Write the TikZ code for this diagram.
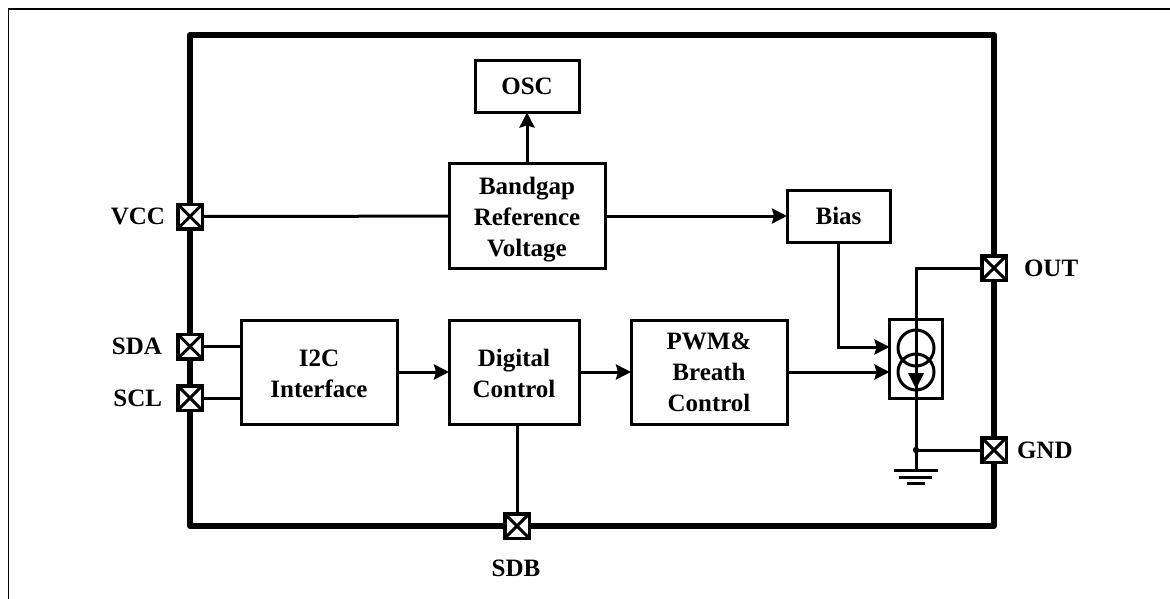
\documentclass[tikz,border=0pt]{standalone}
\usepackage{fontspec}
\setmainfont{Liberation Serif}
\usetikzlibrary{arrows.meta}
\tikzset{
  x=1pt,y=-1pt,
  blockbox/.style={draw=black,line width=3pt,fill=white,align=center,anchor=center,inner sep=0pt,outer sep=0pt,font=\fontsize{25}{31}\selectfont\bfseries},
  wire/.style={draw=black,line width=3pt},
  arrowwire/.style={wire,-{Stealth[length=15pt,width=15pt,inset=2pt]}},
  pinlabel/.style={inner sep=0pt,outer sep=0pt,font=\fontsize{25}{30}\selectfont\bfseries},
  pinbox/.style={draw=black,line width=3.5pt,fill=white,minimum size=24.5pt,inner sep=0pt,outer sep=0pt,path picture={
    \draw[black,line width=3pt] (path picture bounding box.north west)--(path picture bounding box.south east)
    (path picture bounding box.north east)--(path picture bounding box.south west);}}
}
\begin{document}
\begin{tikzpicture}
\useasboundingbox (0,0) rectangle (1170,599);
\draw[black,line width=1.6pt] (8.5,599) -- (8.5,9);
\draw[black,line width=2.6pt] (7.7,9) -- (1170,9);
\draw[black,line width=6pt,line join=round] (190,35) rectangle (994,526);
% pins
\node[pinbox] (vcc) at (190,216.5) {};
\node[pinbox] (sda) at (190,346.5) {};
\node[pinbox] (scl) at (190,398) {};
\node[pinbox] (out) at (994,268) {};
\node[pinbox] (gnd) at (994,450) {};
\node[pinbox] (sdb) at (517,526) {};
\node[pinlabel,anchor=east] (lvcc) at (165,216.5) {VCC};
\node[pinlabel,anchor=east] (lsda) at (162,346.5) {SDA};
\node[pinlabel,anchor=east] (lscl) at (162,398) {SCL};
\node[pinlabel,anchor=west] (lout) at (1024,268) {OUT};
\node[pinlabel,anchor=west] (lgnd) at (1017,450) {GND};
\node[pinlabel] (lsdb) at (516,568) {SDB};
% blocks
\node[blockbox,minimum width=104pt,minimum height=52pt] (osc) at (527,86.5) {OSC};
\node[blockbox,minimum width=156pt,minimum height=104pt] (bg) at (527,216) {\rule{0pt}{24pt}Bandgap\\Reference\\Voltage};
\node[blockbox,minimum width=103pt,minimum height=52pt] (bias) at (838.5,216) {Bias};
\node[blockbox,minimum width=156pt,minimum height=104pt] (i2c) at (319,372) {\rule{0pt}{20pt}I2C\\Interface};
\node[blockbox,minimum width=130pt,minimum height=104pt] (dig) at (514,372) {\rule{0pt}{20pt}Digital\\Control};
\node[blockbox,minimum width=156pt,minimum height=104pt] (pwm) at (709,372) {PWM\&\\Breath\\Control};
% current source
\node[draw=black,line width=3pt,fill=white,minimum width=53pt,minimum height=79pt,inner sep=0pt,outer sep=0pt] (cs) at (916,358.5) {};
\coordinate (csin1) at (cs.west |- 0,347);
\coordinate (csin2) at (cs.west |- 0,372);
\coordinate (jn) at (916,450);
\coordinate (gt) at (916,470);
\draw[wire,line join=miter] (out.west) -- (cs.north |- out.west) -- (cs.north);
\draw[black,line width=3pt] (916,348) circle[radius=18pt] (916,372) circle[radius=18pt];
\draw[wire] (cs.north) -- (cs.south);
\fill[black] (908,373) -- (924,373) -- (916,389) -- cycle;
\draw[wire] (cs.south) -- (gt);
\draw[wire] (jn) -- (gnd.west);
\fill[black] (jn) circle[radius=3.2pt];
\draw[black,line width=3pt] (894,470) -- (938,470) (899,477) -- (932,477) (907,483) -- (925,483);
% connectors
\draw[wire] (vcc) -- (bg);
\draw[arrowwire] (osc.south |- bg.north) -- (osc.south);
\draw[arrowwire] (bg.east) -- (bias.west);
\draw[wire] (sda.east) -- (i2c.west |- sda.east);
\draw[wire] (scl.east) -- (i2c.west |- scl.east);
\draw[arrowwire] (i2c.east) -- (dig.west);
\draw[arrowwire] (dig.east) -- (pwm.west);
\draw[arrowwire] (pwm.east |- csin2) -- (csin2);
\draw[arrowwire] (bias.south) |- (csin1);
\draw[wire] (sdb.north |- dig.south) -- (sdb.north);
\end{tikzpicture}
\end{document}
